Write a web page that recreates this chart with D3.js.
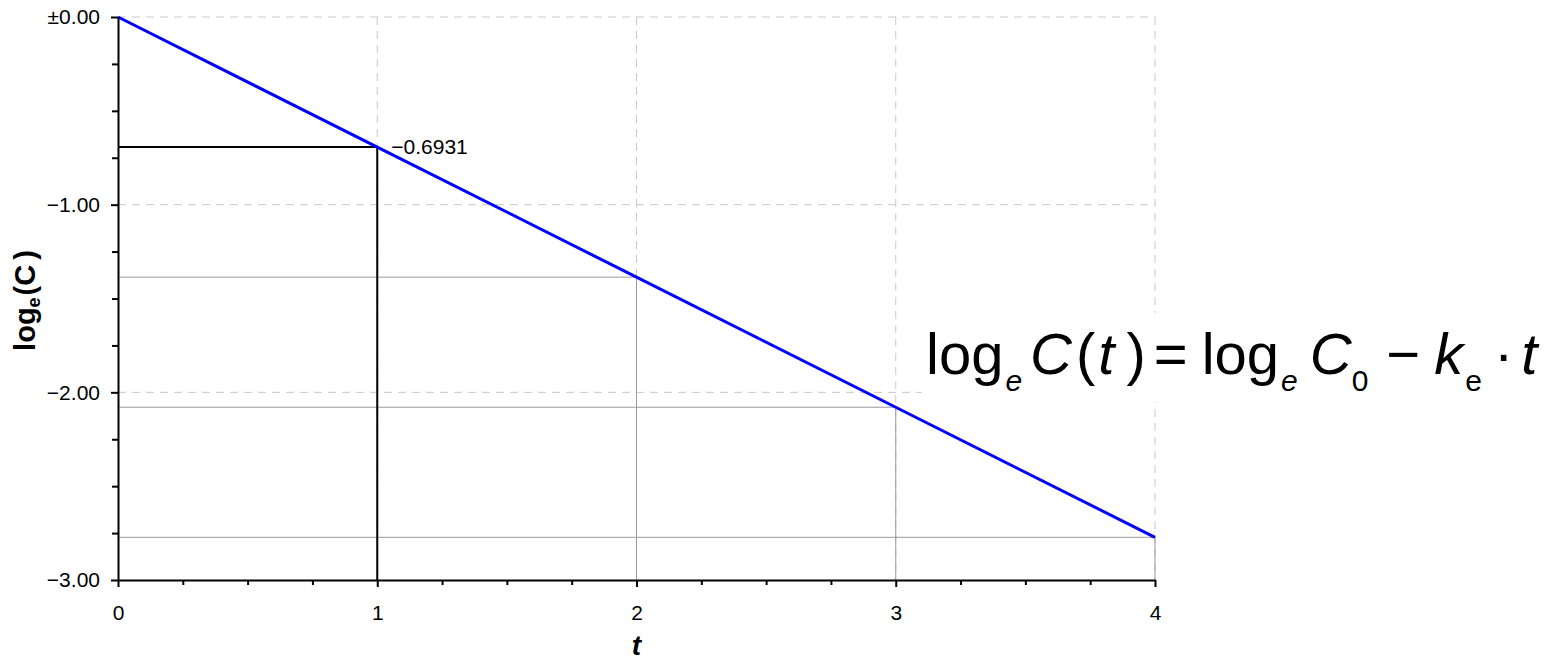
<!DOCTYPE html>
<html>
<head>
<meta charset="utf-8">
<script src="https://cdn.jsdelivr.net/npm/d3@7"></script>
<style>
  body { margin: 0; background: #fff; }
  svg { display: block; font-family: "Liberation Sans", Arial, sans-serif; }
</style>
</head>
<body>
<script>
// datos de la recta de eliminacion
const tPoints = [0, 1, 2, 3, 4];
const logCPoints = [0, -0.6931, -1.3863, -2.0794, -2.7726];
const xTicks = [0, 1, 2, 3, 4];
const yTicks = [0, -1, -2, -3];
const yTickLabels = ["±0.00", "−1.00", "−2.00", "−3.00"];
const halfLife = { t: 1, value: -0.6931, label: "−0.6931" };

const width = 1557;
const height = 662;
const margin = { top: 17, right: 402, bottom: 82, left: 118 };

const x = d3.scaleLinear()
  .domain([0, 4])
  .range([margin.left, width - margin.right]);
const y = d3.scaleLinear()
  .domain([-3, 0])
  .range([height - margin.bottom, margin.top]);

const svg = d3.select("body")
  .append("svg")
  .attr("width", width)
  .attr("height", height);

// rejilla discontinua
const grid = svg.append("g")
  .attr("stroke", "#c8c8c8")
  .attr("stroke-width", 1)
  .attr("stroke-dasharray", "8,6");
grid.selectAll("line.v")
  .data(xTicks.filter(d => d > 0))
  .enter()
  .append("line")
  .attr("x1", d => x(d)).attr("x2", d => x(d))
  .attr("y1", y(0)).attr("y2", y(-3));
grid.selectAll("line.h")
  .data(yTicks.filter(d => d > -3))
  .enter()
  .append("line")
  .attr("x1", x(0)).attr("x2", x(4))
  .attr("y1", d => y(d)).attr("y2", d => y(d));

// lineas guia grises (t = 2, 3, 4)
const guides = tPoints.map((t, i) => ({ t: t, v: logCPoints[i] }))
  .filter(d => d.t >= 2);
const guia = svg.append("g")
  .attr("stroke", "#9a9a9a")
  .attr("stroke-width", 1);
guia.selectAll("line.h")
  .data(guides)
  .enter()
  .append("line")
  .attr("x1", x(0)).attr("x2", d => x(d.t))
  .attr("y1", d => y(d.v)).attr("y2", d => y(d.v));
guia.selectAll("line.v")
  .data(guides)
  .enter()
  .append("line")
  .attr("x1", d => x(d.t)).attr("x2", d => x(d.t))
  .attr("y1", d => y(d.v)).attr("y2", y(-3));

// vida media en negro
svg.append("path")
  .attr("fill", "none")
  .attr("stroke", "#000")
  .attr("stroke-width", 2)
  .attr("d", d3.line()([
    [x(0), y(halfLife.value)],
    [x(halfLife.t), y(halfLife.value)],
    [x(halfLife.t), y(-3)]
  ]));

// ecuacion (con fondo blanco)
const eq = svg.append("g");
const eqText = eq.append("text")
  .attr("x", 926)
  .attr("y", 374)
  .attr("font-size", 58)
  .attr("fill", "#000");
const piezas = [
  { s: "log" },
  { s: "e", sub: true, it: true, dx: 2 },
  { s: "C", it: true, dx: 8 },
  { s: "(", dx: 4 },
  { s: "t", it: true, dx: 3 },
  { s: ")", dx: 12 },
  { s: "=", dx: 8 },
  { s: "log", dx: 14 },
  { s: "e", sub: true, it: true, dx: 2 },
  { s: "C", it: true, dx: 12 },
  { s: "0", sub: true, dx: 0 },
  { s: "−", dx: 18 },
  { s: "k", it: true, dx: 14 },
  { s: "e", sub: true, dx: 2 },
  { s: "·", dx: 12 },
  { s: "t", it: true, dx: 8 }
];
let bajo = false;
piezas.forEach(p => {
  let dy = 0;
  if (p.sub && !bajo) { dy = 17; bajo = true; }
  else if (!p.sub && bajo) { dy = -17; bajo = false; }
  eqText.append("tspan")
    .attr("dx", p.dx || 0)
    .attr("dy", dy)
    .attr("font-size", p.sub ? 30 : 58)
    .attr("font-style", p.it ? "italic" : "normal")
    .text(p.s);
});
const bb = eqText.node().getBBox();
eq.insert("rect", "text")
  .attr("x", bb.x - 4)
  .attr("y", 313)
  .attr("width", bb.width + 14)
  .attr("height", 89)
  .attr("fill", "#fff");

// recta azul
svg.append("path")
  .datum(tPoints.map((t, i) => [t, logCPoints[i]]))
  .attr("fill", "none")
  .attr("stroke", "#0000ff")
  .attr("stroke-width", 3)
  .attr("d", d3.line().x(d => x(d[0])).y(d => y(d[1])));

// etiqueta -0.6931
svg.append("text")
  .attr("x", x(halfLife.t) + 14)
  .attr("y", y(halfLife.value))
  .attr("dy", "0.35em")
  .attr("font-size", 21)
  .text(halfLife.label);

// ejes
const minorX = d3.range(0, 4.001, 0.25).filter(d => d % 1 !== 0);
const minorY = d3.range(-3, 0.001, 0.25).filter(d => d % 1 !== 0);

const ejeX = svg.append("g")
  .attr("transform", "translate(0," + y(-3) + ")");
ejeX.append("g")
  .call(d3.axisBottom(x).tickValues(minorX).tickSize(5).tickFormat(""))
  .call(g => g.select(".domain").remove());
ejeX.append("g")
  .call(d3.axisBottom(x).tickValues(xTicks).tickSize(7).tickSizeOuter(0).tickPadding(18)
    .tickFormat(d3.format("d")));

const ejeY = svg.append("g")
  .attr("transform", "translate(" + x(0) + ",0)");
ejeY.append("g")
  .call(d3.axisLeft(y).tickValues(minorY).tickSize(6).tickFormat(""))
  .call(g => g.select(".domain").remove());
ejeY.append("g")
  .call(d3.axisLeft(y).tickValues(yTicks).tickSize(7).tickSizeOuter(0).tickPadding(11)
    .tickFormat((d, i) => yTickLabels[i]));

svg.selectAll(".tick line").attr("stroke-width", 2);
svg.selectAll(".domain").attr("stroke-width", 2);
svg.selectAll(".tick text")
  .attr("font-size", 21)
  .attr("font-family", "\"Liberation Sans\", Arial, sans-serif")
  .attr("fill", "#000");

// titulos de ejes
svg.append("text")
  .attr("x", x(2))
  .attr("y", 655)
  .attr("text-anchor", "middle")
  .attr("font-size", 28)
  .attr("font-weight", "bold")
  .attr("font-style", "italic")
  .text("t");

const yLab = svg.append("text")
  .attr("transform", "translate(35," + (y(-1.5) + 2) + ") rotate(-90)")
  .attr("text-anchor", "middle")
  .attr("font-size", 29)
  .attr("font-weight", "bold");
yLab.append("tspan").text("log");
yLab.append("tspan").attr("font-size", 18).attr("dy", 5).text("e");
yLab.append("tspan").attr("dy", -5).attr("dx", 2).text("(C");
yLab.append("tspan").attr("dx", 5).text(")");
</script>
</body>
</html>
